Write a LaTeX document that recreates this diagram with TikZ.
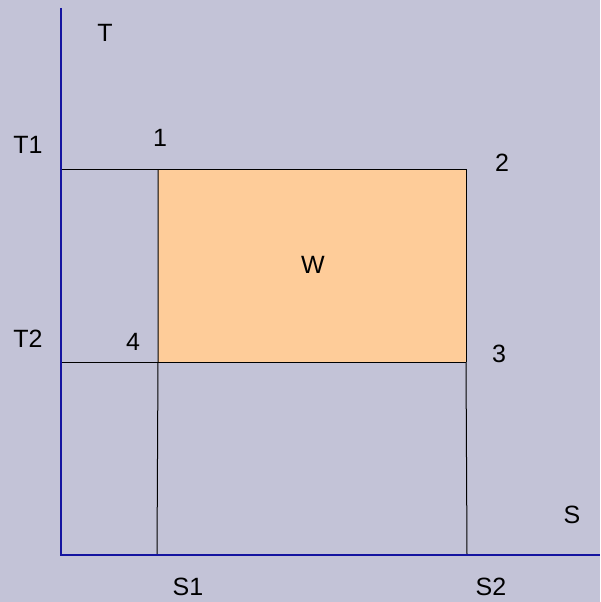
\documentclass[tikz,border=0pt]{standalone}
\usepackage{fontspec}
\setmainfont{Liberation Sans}
\definecolor{bg}{RGB}{195,195,215}
\definecolor{warm}{RGB}{254,204,153}
\definecolor{axisblue}{RGB}{20,20,160}
\begin{document}
\begin{tikzpicture}[x=1pt,y=-1pt,
  lbl/.style={font=\fontsize{25}{30}\selectfont, inner sep=0pt},
  axisline/.style={draw=axisblue, line width=1.2pt},
  thin/.style={draw=black, line width=1pt}]
\fill[bg] (0,0) rectangle (600,602);
\useasboundingbox (0,0) rectangle (600,602);
% coordinates
\coordinate (ytop) at (61,8);
\coordinate (o) at (61,555);
\coordinate (xend) at (600,555);
\coordinate (a1) at (158,169);
\coordinate (a2) at (466,169);
\coordinate (a3) at (466,362);
\coordinate (a4) at (158,362);
\coordinate (t1) at (61,169);
\coordinate (t2) at (61,362);
\coordinate (s1) at (157,555);
\coordinate (s2) at (467,555);
\fill[warm] (a1) rectangle (a3);
\draw[thin] (t1) -- (a2) -- (a3);
\draw[thin] (t2) -- (a3);
\draw[thin] (a1) -- (a4) -- (s1);
\draw[thin] (a3) -- (s2);
\draw[axisline] (ytop) -- (o) -- (xend);
% labels
\node[lbl] (T) at (105,33) {T};
\node[lbl] (T1) at (28,145) {T1};
\node[lbl] (n1) at (160,138) {1};
\node[lbl] (n2) at (502,163) {2};
\node[lbl] (W) at (313,265) {W};
\node[lbl] (T2) at (28,339) {T2};
\node[lbl] (n4) at (133,342) {4};
\node[lbl] (n3) at (499,354) {3};
\node[lbl] (S) at (572,515) {S};
\node[lbl] (S1) at (188,587) {S1};
\node[lbl] (S2) at (491,587) {S2};
\end{tikzpicture}
\end{document}
